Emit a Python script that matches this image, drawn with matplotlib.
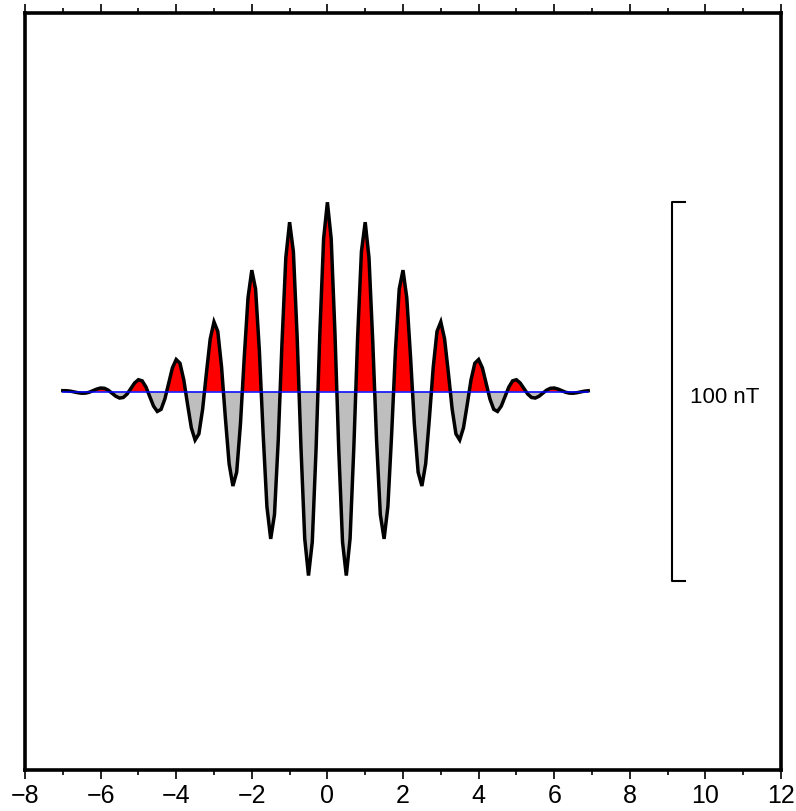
#WIGGLE PLOT OF A MAGNETIC ANOMALY ALONG A TRACK

import matplotlib
matplotlib.use('Agg')
import matplotlib.pyplot as plt
import numpy as np

plt.rcParams['font.family'] = ['Liberation Sans', 'DejaVu Sans']

# sample positions along the track (every 0.1 from -7 to 6.9)
x = np.arange(-70, 70) / 10.0

# anomaly values (nT)
z = np.array([
    0.22, 0.20, 0.09, -0.11, -0.32, -0.46, -0.43, -0.19, 0.22, 0.65,
    0.92, 0.85, 0.37, -0.42, -1.24, -1.73, -1.58, -0.68, 0.77, 2.25,
    3.11, 2.81, 1.19, -1.33, -3.85, -5.27, -4.71, -1.98, 2.18, 6.25,
    8.45, 7.46, 3.11, -3.38, -9.58, -12.82, -11.20, -4.61, 4.95, 13.91,
    18.39, 15.89, 6.47, -6.87, -19.09, -24.97, -21.33, -8.58, 9.02, 24.78,
    32.06, 27.08, 10.78, -11.21, -30.44, -38.94, -32.53, -12.80, 13.17, 35.36,
    44.74, 36.97, 14.39, -14.63, -38.86, -48.63, -39.74, -15.30, 15.38, 40.40,
    50.00,
    40.40, 15.38, -15.30, -39.74, -48.63, -38.86, -14.63, 14.39, 36.97,
    44.74, 35.36, 13.17, -12.80, -32.53, -38.94, -30.44, -11.21, 10.78, 27.08,
    32.06, 24.78, 9.02, -8.58, -21.33, -24.97, -19.09, -6.87, 6.47, 15.89,
    18.39, 13.91, 4.95, -4.61, -11.20, -12.82, -9.58, -3.38, 3.11, 7.46,
    8.45, 6.25, 2.18, -1.98, -4.71, -5.27, -3.85, -1.33, 1.19, 2.81,
    3.11, 2.25, 0.77, -0.68, -1.58, -1.73, -1.24, -0.42, 0.37, 0.85,
    0.92, 0.65, 0.22, -0.19, -0.43, -0.46, -0.32, -0.11, 0.09, 0.20,
])

scale_value = 100  # length of the scale bar in nT
scale_label = "100 nT"

fig = plt.figure(figsize=(7.96, 8.11), dpi=100)
ax = fig.add_axes([25 / 796, 41 / 811, 756 / 796, 757 / 811])

ax.fill_between(x, z, 0, where=z >= 0, interpolate=True, color='red', lw=0)
ax.fill_between(x, z, 0, where=z <= 0, interpolate=True, color='#bebebe', lw=0)
ax.plot(x, z, color='black', lw=2.5, solid_joinstyle='miter')
ax.plot(x, np.zeros_like(x), color='blue', lw=1.1)

# scale bar on the right
xb = 9.12
ax.plot([xb + 0.34, xb, xb, xb + 0.34],
        [scale_value / 2, scale_value / 2, -scale_value / 2, -scale_value / 2],
        color='black', lw=1.5, clip_on=False)
ax.text(xb + 0.47, -1.5, scale_label, fontsize=16, va='center', ha='left')

ax.set_xlim(-8, 12)
ax.set_ylim(-100, 100)

ax.set_xticks(np.arange(-8, 13, 2))
ax.set_xticks(np.arange(-7, 12, 2), minor=True)
ax.set_yticks([])
ax.tick_params(axis='x', which='both', direction='out', top=True, bottom=True,
               labeltop=False, labelsize=18, width=1.2, pad=3.5)
ax.tick_params(axis='x', which='major', length=6.5)
ax.tick_params(axis='x', which='minor', length=3.3)
for s in ax.spines.values():
    s.set_linewidth(2.6)

fig.savefig('out.png', dpi=100)
